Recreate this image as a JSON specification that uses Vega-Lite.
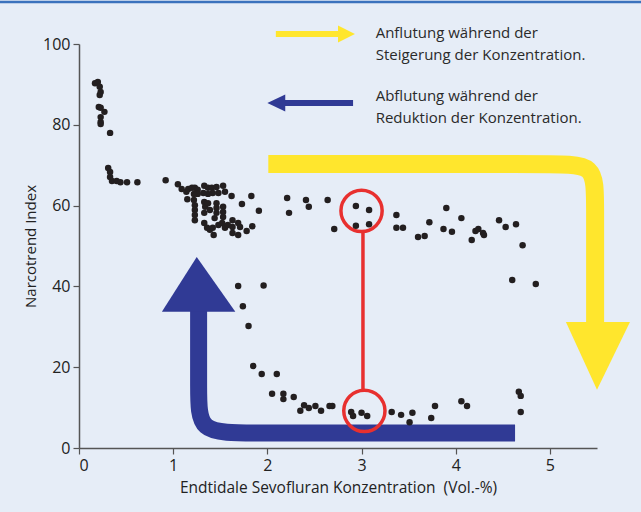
{
  "$schema": "https://vega.github.io/schema/vega-lite/v6.json",
  "width": 518,
  "height": 404,
  "autosize": "none",
  "padding": {"left": 79, "top": 44, "right": 44, "bottom": 64},
  "background": "#e6edf7",
  "config": {
    "view": {"stroke": null},
    "font": "Open Sans",
    "axis": {
      "grid": false,
      "domainColor": "#555555",
      "domainWidth": 1.5,
      "tickColor": "#555555",
      "tickWidth": 1.2,
      "tickSize": 6,
      "labelFont": "Open Sans",
      "labelFontSize": 16,
      "labelColor": "#222222",
      "titleFont": "Open Sans",
      "titleFontSize": 15,
      "titleFontWeight": "normal",
      "titleColor": "#222222"
    }
  },
  "datasets": {
    "pts": [
      {"x": 0.17, "y": 90.3}, {"x": 0.20, "y": 90.6}, {"x": 0.22, "y": 89.4}, {"x": 0.23, "y": 88.1},
      {"x": 0.22, "y": 87.4}, {"x": 0.21, "y": 84.4}, {"x": 0.23, "y": 84.2}, {"x": 0.27, "y": 83.2},
      {"x": 0.23, "y": 81.9}, {"x": 0.23, "y": 80.7}, {"x": 0.23, "y": 80.2}, {"x": 0.33, "y": 78.0},
      {"x": 0.31, "y": 69.3}, {"x": 0.33, "y": 68.3}, {"x": 0.33, "y": 67.1}, {"x": 0.35, "y": 66.1},
      {"x": 0.40, "y": 66.1}, {"x": 0.44, "y": 65.8}, {"x": 0.51, "y": 65.8}, {"x": 0.62, "y": 65.8},
      {"x": 0.92, "y": 66.3},
      {"x": 1.05, "y": 65.3}, {"x": 1.09, "y": 64.1}, {"x": 1.14, "y": 63.4}, {"x": 1.16, "y": 64.1},
      {"x": 1.20, "y": 64.4}, {"x": 1.23, "y": 64.4}, {"x": 1.26, "y": 63.9}, {"x": 1.33, "y": 64.9},
      {"x": 1.37, "y": 64.4}, {"x": 1.41, "y": 64.4}, {"x": 1.46, "y": 64.6}, {"x": 1.53, "y": 64.9},
      {"x": 1.55, "y": 63.4}, {"x": 1.48, "y": 63.1}, {"x": 1.42, "y": 63.1}, {"x": 1.37, "y": 62.9},
      {"x": 1.32, "y": 63.1}, {"x": 1.26, "y": 62.9}, {"x": 1.22, "y": 62.9}, {"x": 1.15, "y": 61.6},
      {"x": 1.22, "y": 61.4}, {"x": 1.23, "y": 60.1}, {"x": 1.23, "y": 58.9}, {"x": 1.23, "y": 57.7},
      {"x": 1.23, "y": 56.4}, {"x": 1.33, "y": 60.9}, {"x": 1.34, "y": 59.7}, {"x": 1.33, "y": 58.2},
      {"x": 1.37, "y": 60.6}, {"x": 1.39, "y": 58.9}, {"x": 1.46, "y": 60.6}, {"x": 1.46, "y": 59.4},
      {"x": 1.46, "y": 58.2}, {"x": 1.44, "y": 56.9}, {"x": 1.53, "y": 59.7}, {"x": 1.53, "y": 58.4},
      {"x": 1.53, "y": 57.2}, {"x": 1.33, "y": 55.7}, {"x": 1.36, "y": 54.5}, {"x": 1.39, "y": 54.0},
      {"x": 1.42, "y": 54.5}, {"x": 1.43, "y": 52.7}, {"x": 1.48, "y": 55.2}, {"x": 1.52, "y": 55.7},
      {"x": 1.55, "y": 54.5}, {"x": 1.62, "y": 62.4}, {"x": 1.73, "y": 60.4}, {"x": 1.83, "y": 62.4},
      {"x": 1.91, "y": 58.7}, {"x": 1.63, "y": 56.4}, {"x": 1.63, "y": 54.7}, {"x": 1.63, "y": 53.2},
      {"x": 1.69, "y": 55.7}, {"x": 1.71, "y": 54.7}, {"x": 1.69, "y": 52.7}, {"x": 1.78, "y": 53.7},
      {"x": 1.84, "y": 54.9}, {"x": 1.58, "y": 55.2},
      {"x": 2.21, "y": 61.9}, {"x": 2.23, "y": 58.2}, {"x": 2.41, "y": 61.4}, {"x": 2.44, "y": 59.7},
      {"x": 2.64, "y": 61.4}, {"x": 2.71, "y": 54.2}, {"x": 2.94, "y": 59.9}, {"x": 3.08, "y": 58.9},
      {"x": 2.94, "y": 55.0}, {"x": 3.08, "y": 55.4}, {"x": 3.37, "y": 57.7}, {"x": 3.37, "y": 54.5},
      {"x": 3.44, "y": 54.5}, {"x": 3.60, "y": 52.2}, {"x": 3.67, "y": 52.5}, {"x": 3.72, "y": 55.9},
      {"x": 3.90, "y": 59.4}, {"x": 3.87, "y": 54.2}, {"x": 3.96, "y": 53.5}, {"x": 4.06, "y": 56.9},
      {"x": 4.17, "y": 51.5}, {"x": 4.21, "y": 53.7}, {"x": 4.24, "y": 54.2}, {"x": 4.29, "y": 53.2},
      {"x": 4.30, "y": 52.7}, {"x": 4.46, "y": 56.4}, {"x": 4.53, "y": 54.7}, {"x": 4.64, "y": 55.4},
      {"x": 4.71, "y": 50.2}, {"x": 4.60, "y": 41.6}, {"x": 4.85, "y": 40.6}, {"x": 1.96, "y": 40.2},
      {"x": 1.69, "y": 40.1}, {"x": 1.74, "y": 35.1}, {"x": 1.80, "y": 30.2}, {"x": 1.85, "y": 20.3},
      {"x": 1.94, "y": 18.3}, {"x": 2.10, "y": 18.3}, {"x": 2.05, "y": 13.4}, {"x": 2.17, "y": 13.4},
      {"x": 2.17, "y": 12.1}, {"x": 2.28, "y": 12.6}, {"x": 2.39, "y": 10.6}, {"x": 2.35, "y": 9.2},
      {"x": 2.44, "y": 9.9}, {"x": 2.51, "y": 10.4}, {"x": 2.57, "y": 9.2}, {"x": 2.66, "y": 10.4},
      {"x": 2.69, "y": 10.4}, {"x": 2.89, "y": 8.9}, {"x": 2.91, "y": 7.9}, {"x": 3.00, "y": 8.7},
      {"x": 3.06, "y": 7.9}, {"x": 3.32, "y": 8.9}, {"x": 3.42, "y": 8.2}, {"x": 3.54, "y": 8.7},
      {"x": 3.51, "y": 6.4}, {"x": 3.74, "y": 7.4}, {"x": 3.78, "y": 10.4}, {"x": 4.06, "y": 11.6},
      {"x": 4.12, "y": 10.4}, {"x": 4.67, "y": 13.9}, {"x": 4.69, "y": 12.9}, {"x": 4.69, "y": 8.9}
    ],
    "yband": [
      {"o": 1, "x": 2.01, "y": 70.3}, {"o": 2, "x": 5.05, "y": 70.3}, {"o": 3, "x": 5.48, "y": 70.3},
      {"o": 4, "x": 5.48, "y": 61.0}, {"o": 5, "x": 5.48, "y": 31.0}
    ],
    "yhead": [
      {"y": 31.2, "x": 5.17, "x2": 5.85}, {"y": 14.4, "x": 5.50, "x2": 5.50}
    ],
    "bband": [
      {"o": 1, "x": 1.27, "y": 34.0}, {"o": 2, "x": 1.27, "y": 14.0}, {"o": 3, "x": 1.27, "y": 3.7},
      {"o": 4, "x": 1.75, "y": 3.7}, {"o": 5, "x": 4.63, "y": 3.7}
    ],
    "bhead": [
      {"y": 33.7, "x": 0.88, "x2": 1.66}, {"y": 47.3, "x": 1.25, "x2": 1.25}
    ],
    "legline": [
      {"c": "yellow", "x": 2.09, "x2": 2.76, "y": 102.5},
      {"c": "blue", "x": 2.18, "x2": 2.91, "y": 85.4}
    ],
    "leghead": [
      {"c": "yellow", "x": 2.75, "y": 104.6, "y2": 100.4},
      {"c": "yellow", "x": 2.93, "y": 102.5, "y2": 102.5},
      {"c": "blue", "x": 2.00, "y": 85.4, "y2": 85.4},
      {"c": "blue", "x": 2.19, "y": 87.5, "y2": 83.3}
    ],
    "circles": [{"x": 3.0, "y": 58.7}, {"x": 3.03, "y": 9.2}],
    "labels": [
      {"x": 3.15, "y": 102.7, "t": "Anflutung während der"},
      {"x": 3.15, "y": 97.3, "t": "Steigerung der Konzentration."},
      {"x": 3.15, "y": 87.1, "t": "Abflutung während der"},
      {"x": 3.15, "y": 81.7, "t": "Reduktion der Konzentration."}
    ]
  },
  "encoding": {
    "x": {
      "field": "x", "type": "quantitative",
      "scale": {"domain": [0, 5.5], "nice": false},
      "axis": {"values": [0, 1, 2, 3, 4, 5], "format": "d", "title": "Endtidale Sevofluran Konzentration \u00a0(Vol.-%)", "labelPadding": 3, "titlePadding": 7, "titleFontSize": 15.5}
    },
    "y": {
      "field": "y", "type": "quantitative",
      "scale": {"domain": [0, 100], "nice": false},
      "axis": {"values": [0, 20, 40, 60, 80, 100], "title": "Narcotrend Index", "labelPadding": 3, "titlePadding": 4}
    }
  },
  "layer": [
    {
      "data": {"values": [{"x": -0.85, "x2": 5.98, "y": 110.4}]},
      "mark": {"type": "rule", "color": "#3b72bd", "strokeWidth": 2.5},
      "encoding": {"x2": {"field": "x2"}}
    },
    {
      "data": {"name": "yband"},
      "mark": {"type": "line", "interpolate": "basis", "color": "#ffe62d", "strokeWidth": 18, "strokeCap": "butt"},
      "encoding": {"order": {"field": "o"}}
    },
    {
      "data": {"name": "yhead"},
      "mark": {"type": "area", "orient": "horizontal", "color": "#ffe62d"},
      "encoding": {"x2": {"field": "x2"}}
    },
    {
      "data": {"name": "bband"},
      "mark": {"type": "line", "interpolate": "basis", "color": "#303a95", "strokeWidth": 17, "strokeCap": "butt"},
      "encoding": {"order": {"field": "o"}}
    },
    {
      "data": {"name": "bhead"},
      "mark": {"type": "area", "orient": "horizontal", "color": "#303a95"},
      "encoding": {"x2": {"field": "x2"}}
    },
    {
      "data": {"name": "legline"},
      "mark": {"type": "rule", "strokeWidth": 6},
      "encoding": {
        "x2": {"field": "x2"},
        "color": {"field": "c", "type": "nominal", "scale": {"domain": ["yellow", "blue"], "range": ["#ffe62d", "#303a95"]}, "legend": null}
      }
    },
    {
      "data": {"name": "leghead"},
      "mark": {"type": "area", "orient": "vertical"},
      "encoding": {
        "y2": {"field": "y2"},
        "color": {"field": "c", "type": "nominal", "scale": {"domain": ["yellow", "blue"], "range": ["#ffe62d", "#303a95"]}, "legend": null}
      }
    },
    {
      "data": {"values": [{"x": 3.015, "y": 14.4, "y2": 53.4}]},
      "mark": {"type": "rule", "color": "#e8302f", "strokeWidth": 3.5},
      "encoding": {"y2": {"field": "y2"}}
    },
    {
      "data": {"name": "circles"},
      "mark": {"type": "point", "shape": "circle", "filled": false, "size": 1700, "stroke": "#e8302f", "strokeWidth": 3.5, "opacity": 1}
    },
    {
      "data": {"name": "pts"},
      "mark": {"type": "circle", "size": 42, "color": "#231f20", "opacity": 1}
    },
    {
      "data": {"name": "labels"},
      "mark": {"type": "text", "align": "left", "baseline": "middle", "fontSize": 15, "color": "#2a2a2a", "font": "Open Sans"},
      "encoding": {"text": {"field": "t"}}
    }
  ]
}
